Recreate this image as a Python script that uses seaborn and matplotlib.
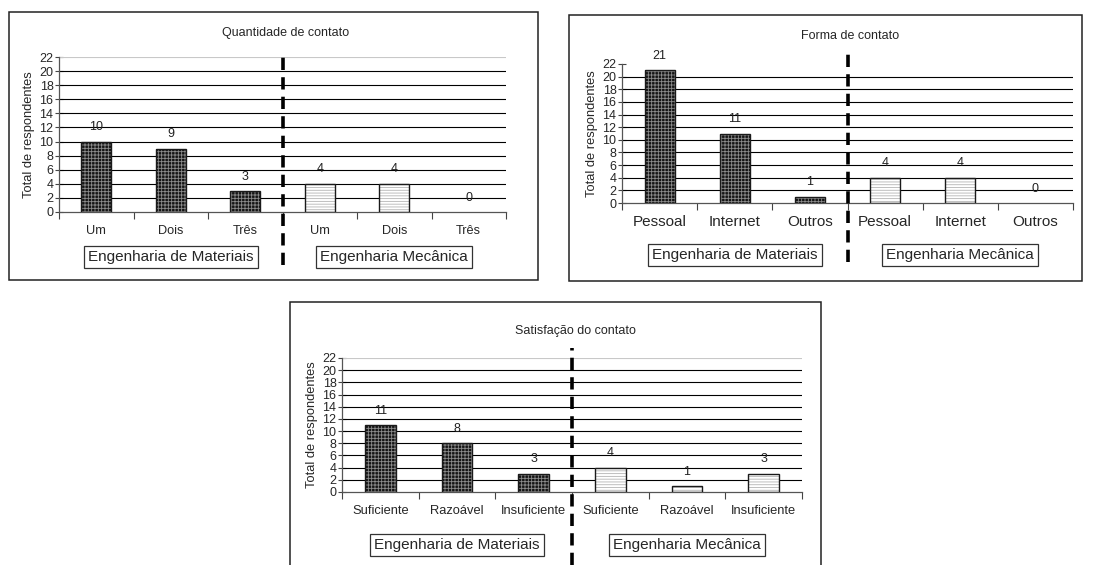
import numpy as np
import pandas as pd
import matplotlib
matplotlib.use('Agg')
import matplotlib.pyplot as plt
import matplotlib.transforms as mtransforms
from matplotlib.patches import Rectangle
import seaborn as sns

# --- data -------------------------------------------------------------
groups = ['Engenharia de Materiais', 'Engenharia Mecânica']
y_label = 'Total de respondentes'
y_ticks = list(range(0, 23, 2))

titles = ['Quantidade de contato', 'Forma de contato', 'Satisfação do contato']
cats_quantidade = ['Um', 'Dois', 'Três']
cats_forma = ['Pessoal', 'Internet', 'Outros']
cats_satisfacao = ['Suficiente', 'Razoável', 'Insuficiente']

materiais_quantidade = [10, 9, 3]
mecanica_quantidade = [4, 4, 0]
materiais_forma = [21, 11, 1]
mecanica_forma = [4, 4, 0]
materiais_satisfacao = [11, 8, 3]
mecanica_satisfacao = [4, 1, 3]

W, H = 1095, 565
sns.set_theme(style='white')
plt.rcParams['font.family'] = ['Liberation Sans', 'DejaVu Sans']
plt.rcParams['hatch.linewidth'] = 0.6


def fx(px):
    return px / W


def fy(py):
    return 1 - py / H


def draw_panel(fig, rect, title, cats, mat, mec, cat_fs, title_y, dash_span,
               box_y, top_line=True):
    left, top, right, bottom = rect
    ax = fig.add_axes([fx(left), fy(bottom), fx(right - left), (bottom - top) / H])
    slots = [f'{g}|{c}' for g in groups for c in cats]
    df = pd.DataFrame({
        'slot': slots,
        'grupo': [g for g in groups for _ in cats],
        'valor': list(mat) + list(mec),
    })
    sns.barplot(data=df, x='slot', y='valor', hue='grupo', order=slots,
                hue_order=groups, dodge=False, width=0.4, legend=False,
                palette=['#222222', 'white'], ax=ax)
    bars = [p for p in ax.patches if isinstance(p, Rectangle)]
    for p in bars:
        cx = p.get_x() + p.get_width() / 2
        if cx < len(cats) - 0.5:
            p.set_facecolor('#141414')
            p.set_hatch('+++++')
            p.set_edgecolor('#8c8c8c')
        else:
            p.set_facecolor('white')
            p.set_hatch('------')
            p.set_edgecolor('#b4b4b4')
        p.set_linewidth(0)
        p.set_zorder(2)
        if p.get_height() > 0:
            ax.add_patch(Rectangle((p.get_x(), p.get_y()), p.get_width(),
                                   p.get_height(), fill=False,
                                   edgecolor='#1a1a1a', linewidth=1.0, zorder=3))
    vals = df['valor'].tolist()
    for i, v in enumerate(vals):
        ax.annotate(str(v), (i, v), xytext=(0, 6), textcoords='offset points',
                    ha='center', va='bottom', fontsize=9, color='#222222',
                    annotation_clip=False)

    ax.set_ylim(0, 22)
    ax.set_xlim(-0.5, len(slots) - 0.5)
    ax.set_yticks(y_ticks)
    ax.set_yticklabels([str(t) for t in y_ticks], fontsize=9)
    for t in y_ticks[1:-1]:
        ax.axhline(t, color='black', lw=0.8, zorder=1)
    if top_line:
        ax.axhline(22, color='#c8c8c8', lw=0.8, zorder=1)
    ax.tick_params(axis='y', which='major', length=6, direction='inout',
                   width=0.8, pad=1, left=True, color='#444444')
    ax.set_xticks(np.arange(len(slots) + 1) - 0.5)
    ax.set_xticklabels([''] * (len(slots) + 1))
    ax.set_xticks(np.arange(len(slots)), minor=True)
    ax.set_xticklabels(cats * 2, minor=True, fontsize=cat_fs)
    ax.tick_params(axis='x', which='major', length=5, width=0.8,
                   bottom=True, color='#444444')
    ax.tick_params(axis='x', which='minor', length=0, pad=9, bottom=True)
    ax.set_xlabel('')
    ax.set_ylabel(y_label, fontsize=9.3, labelpad=3)
    for s in ['top', 'right']:
        ax.spines[s].set_visible(False)
    for s in ['left', 'bottom']:
        ax.spines[s].set_color('#555555')
        ax.spines[s].set_linewidth(0.9)

    height = bottom - top
    y0, y1 = dash_span
    ax.axvline(len(cats) - 0.5, ymin=(bottom - y1) / height,
               ymax=(bottom - y0) / height, color='black', lw=2.6,
               dashes=(3.4, 2.0), clip_on=False, zorder=4)

    fig.text(fx((left + right) / 2 + 3), fy(title_y), title, ha='center',
             va='center', fontsize=9)

    trans = mtransforms.blended_transform_factory(ax.transData, fig.transFigure)
    for k, g in enumerate(groups):
        ax.text(k * len(cats) + (len(cats) - 1) / 2, fy(box_y), g,
                transform=trans, ha='center', va='center', fontsize=11,
                bbox=dict(boxstyle='square,pad=0.28', fc='white',
                          ec='#333333', lw=0.9))
    return ax


fig = plt.figure(figsize=(W / 100, H / 100), dpi=100)

# panel frames
for (x0, y0, x1, y1) in [(9, 12, 538, 280), (569, 15, 1082, 281), (290, 302, 821, 570)]:
    fig.patches.append(Rectangle((fx(x0), fy(y1)), fx(x1 - x0), (y1 - y0) / H,
                                 transform=fig.transFigure, fill=False,
                                 edgecolor='#222222', linewidth=1.1))

draw_panel(fig, (59, 57, 506, 212), titles[0], cats_quantidade,
           materiais_quantidade, mecanica_quantidade, 9.2, 33, (53, 265), 257)
draw_panel(fig, (622, 64, 1073, 203), titles[1], cats_forma,
           materiais_forma, mecanica_forma, 11, 36, (50, 262), 255, top_line=False)
draw_panel(fig, (342, 358, 802, 492), titles[2], cats_satisfacao,
           materiais_satisfacao, mecanica_satisfacao, 9.3, 331, (348, 565), 545)

fig.savefig('out.png', dpi=100)
